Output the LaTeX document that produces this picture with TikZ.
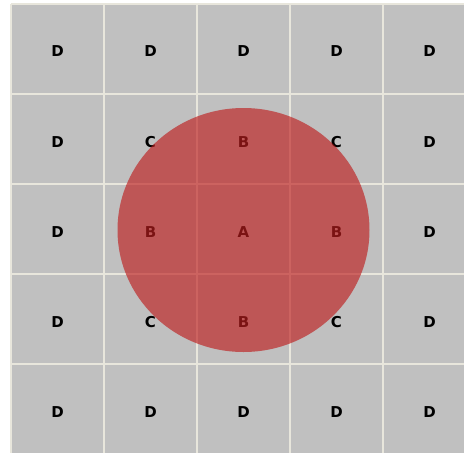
\documentclass[tikz,border=0pt]{standalone}
\usepackage{fontspec}
\newfontfamily\cellfont{DejaVu Sans}
\definecolor{cellgray}{HTML}{C0C0C0}
\definecolor{gridline}{HTML}{E8E6DC}
\definecolor{spot}{HTML}{BE1E1E}
\tikzset{
  cell/.style={font=\cellfont\bfseries\fontsize{15}{15}\selectfont, text=black, inner sep=0pt},
  gridrule/.style={draw=gridline, line width=1.8pt},
  spotdisc/.style={fill=spot, fill opacity=0.65}
}

\begin{document}
\begin{tikzpicture}[x=1pt,y=-1pt]
  \useasboundingbox (0,0) rectangle (464,453);
  \fill[cellgray] (11,4) rectangle (476,460);
  % grid
  \foreach \x in {11,104,197,290,383} \draw[gridrule] (\x,4) -- (\x,460);
  \foreach \y in {4,94,184,274,364} \draw[gridrule] (11,\y) -- (476,\y);
  % labels
  \foreach \row [count=\j from 0] in {{D,D,D,D,D},{D,C,B,C,D},{D,B,A,B,D},{D,C,B,C,D},{D,D,D,D,D}}
    \foreach \lab [count=\i from 0] in \row
      \node[cell] (c-\i-\j) at (57.5+93*\i, 51.5+90.25*\j) {\lab};
  % disc
  \fill[spotdisc] (243.5,230) ellipse [x radius=126pt, y radius=122pt];
\end{tikzpicture}
\end{document}
